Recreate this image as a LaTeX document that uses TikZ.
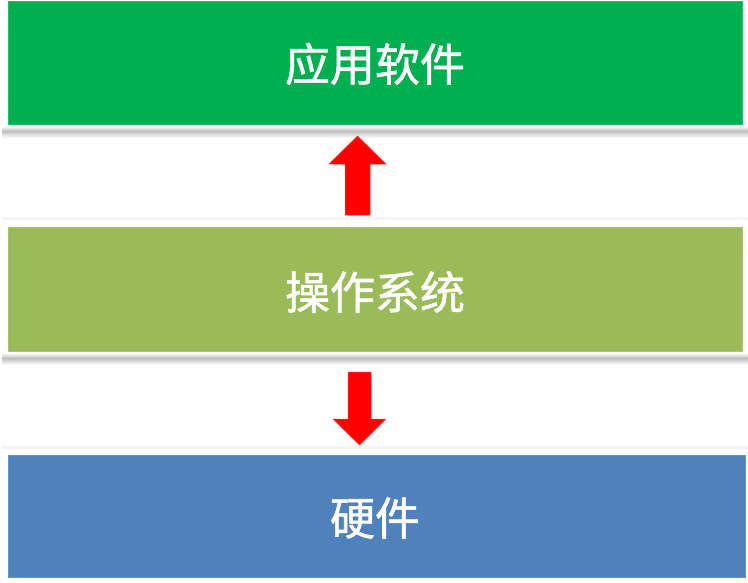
\documentclass[tikz,border=0pt]{standalone}
\usepackage{fontspec}
\newfontfamily\cjk[FakeBold=1.2]{Noto Sans CJK SC}
\definecolor{appgreen}{HTML}{00B050}
\definecolor{osgreen}{HTML}{9BBB59}
\definecolor{hwblue}{HTML}{4F81BD}
\begin{document}
\begin{tikzpicture}[x=1pt,y=-1pt,
  layer/.style={fill=#1,draw=#1!85!white,line width=0.6pt},
  lbl/.style={font=\cjk\fontsize{45}{50}\selectfont,text=white},
  blockarrow/.style={fill=red,draw=red!75!white,line width=0.5pt,line join=miter}]
\useasboundingbox (0,0) rectangle (748,582);
% shadows
\foreach \y in {131,358}{
  \shade[top color=white,bottom color=black!25] (2,\y-5) rectangle (748,\y);
  \shade[top color=black!25,bottom color=white] (2,\y) rectangle (748,\y+7);
}
\foreach \y in {218,447}{
  \fill[black!4] (2,\y-1.5) rectangle (748,\y+1.5);
}
% layers
\path[layer=appgreen] (8,1) rectangle (742,124);
\node[lbl] (app) at (375,64) {应用软件};
\path[layer=osgreen] (8,227) rectangle (742,351);
\node[lbl] (os) at (375,292) {操作系统};
\path[layer=hwblue] (8,455) rectangle (745,577);
\node[lbl] (hw) at (375,518) {硬件};
% arrows
\coordinate (up) at (357.5,136);
\coordinate (dn) at (359.5,445);
\fill[blockarrow] (up) -- ++(28.5,28) -- ++(-16,0) -- ++(0,51) -- ++(-25,0) -- ++(0,-51) -- ++(-16,0) -- cycle;
\fill[blockarrow] (dn) -- ++(26.5,-26) -- ++(-15,0) -- ++(0,-47) -- ++(-23,0) -- ++(0,47) -- ++(-15,0) -- cycle;
\end{tikzpicture}
\end{document}
